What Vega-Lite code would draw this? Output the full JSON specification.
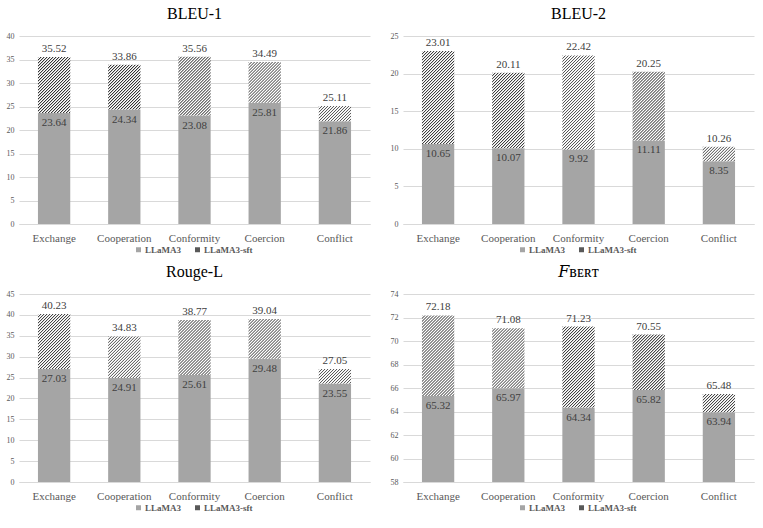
{
  "$schema": "https://vega.github.io/schema/vega-lite/v6.json",
  "description": "LLaMA3 vs LLaMA3-sft scores per negotiation type, four metrics.",
  "padding": {"left": 6, "top": 6, "right": 6, "bottom": 4},
  "params": [
    {
      "name": "hatchStops",
      "value": [
        {"offset": 0, "color": "#333333"}, {"offset": 0.009, "color": "#ffffff"}, {"offset": 0.015, "color": "#ffffff"},
        {"offset": 0.02, "color": "#333333"}, {"offset": 0.029, "color": "#ffffff"}, {"offset": 0.035, "color": "#ffffff"},
        {"offset": 0.04, "color": "#333333"}, {"offset": 0.049, "color": "#ffffff"}, {"offset": 0.055, "color": "#ffffff"},
        {"offset": 0.06, "color": "#333333"}, {"offset": 0.069, "color": "#ffffff"}, {"offset": 0.075, "color": "#ffffff"},
        {"offset": 0.08, "color": "#333333"}, {"offset": 0.089, "color": "#ffffff"}, {"offset": 0.095, "color": "#ffffff"},
        {"offset": 0.10, "color": "#333333"}, {"offset": 0.109, "color": "#ffffff"}, {"offset": 0.115, "color": "#ffffff"},
        {"offset": 0.12, "color": "#333333"}, {"offset": 0.129, "color": "#ffffff"}, {"offset": 0.135, "color": "#ffffff"},
        {"offset": 0.14, "color": "#333333"}, {"offset": 0.149, "color": "#ffffff"}, {"offset": 0.155, "color": "#ffffff"},
        {"offset": 0.16, "color": "#333333"}, {"offset": 0.169, "color": "#ffffff"}, {"offset": 0.175, "color": "#ffffff"},
        {"offset": 0.18, "color": "#333333"}, {"offset": 0.189, "color": "#ffffff"}, {"offset": 0.195, "color": "#ffffff"},
        {"offset": 0.20, "color": "#333333"}, {"offset": 0.209, "color": "#ffffff"}, {"offset": 0.215, "color": "#ffffff"},
        {"offset": 0.22, "color": "#333333"}, {"offset": 0.229, "color": "#ffffff"}, {"offset": 0.235, "color": "#ffffff"},
        {"offset": 0.24, "color": "#333333"}, {"offset": 0.249, "color": "#ffffff"}, {"offset": 0.255, "color": "#ffffff"},
        {"offset": 0.26, "color": "#333333"}, {"offset": 0.269, "color": "#ffffff"}, {"offset": 0.275, "color": "#ffffff"},
        {"offset": 0.28, "color": "#333333"}, {"offset": 0.289, "color": "#ffffff"}, {"offset": 0.295, "color": "#ffffff"},
        {"offset": 0.30, "color": "#333333"}, {"offset": 0.309, "color": "#ffffff"}, {"offset": 0.315, "color": "#ffffff"},
        {"offset": 0.32, "color": "#333333"}, {"offset": 0.329, "color": "#ffffff"}, {"offset": 0.335, "color": "#ffffff"},
        {"offset": 0.34, "color": "#333333"}, {"offset": 0.349, "color": "#ffffff"}, {"offset": 0.355, "color": "#ffffff"},
        {"offset": 0.36, "color": "#333333"}, {"offset": 0.369, "color": "#ffffff"}, {"offset": 0.375, "color": "#ffffff"},
        {"offset": 0.38, "color": "#333333"}, {"offset": 0.389, "color": "#ffffff"}, {"offset": 0.395, "color": "#ffffff"},
        {"offset": 0.40, "color": "#333333"}, {"offset": 0.409, "color": "#ffffff"}, {"offset": 0.415, "color": "#ffffff"},
        {"offset": 0.42, "color": "#333333"}, {"offset": 0.429, "color": "#ffffff"}, {"offset": 0.435, "color": "#ffffff"},
        {"offset": 0.44, "color": "#333333"}, {"offset": 0.449, "color": "#ffffff"}, {"offset": 0.455, "color": "#ffffff"},
        {"offset": 0.46, "color": "#333333"}, {"offset": 0.469, "color": "#ffffff"}, {"offset": 0.475, "color": "#ffffff"},
        {"offset": 0.48, "color": "#333333"}, {"offset": 0.489, "color": "#ffffff"}, {"offset": 0.495, "color": "#ffffff"},
        {"offset": 0.50, "color": "#333333"}, {"offset": 0.509, "color": "#ffffff"}, {"offset": 0.515, "color": "#ffffff"},
        {"offset": 0.52, "color": "#333333"}, {"offset": 0.529, "color": "#ffffff"}, {"offset": 0.535, "color": "#ffffff"},
        {"offset": 0.54, "color": "#333333"}, {"offset": 0.549, "color": "#ffffff"}, {"offset": 0.555, "color": "#ffffff"},
        {"offset": 0.56, "color": "#333333"}, {"offset": 0.569, "color": "#ffffff"}, {"offset": 0.575, "color": "#ffffff"},
        {"offset": 0.58, "color": "#333333"}, {"offset": 0.589, "color": "#ffffff"}, {"offset": 0.595, "color": "#ffffff"},
        {"offset": 0.60, "color": "#333333"}, {"offset": 0.609, "color": "#ffffff"}, {"offset": 0.615, "color": "#ffffff"},
        {"offset": 0.62, "color": "#333333"}, {"offset": 0.629, "color": "#ffffff"}, {"offset": 0.635, "color": "#ffffff"},
        {"offset": 0.64, "color": "#333333"}, {"offset": 0.649, "color": "#ffffff"}, {"offset": 0.655, "color": "#ffffff"},
        {"offset": 0.66, "color": "#333333"}, {"offset": 0.669, "color": "#ffffff"}, {"offset": 0.675, "color": "#ffffff"},
        {"offset": 0.68, "color": "#333333"}, {"offset": 0.689, "color": "#ffffff"}, {"offset": 0.695, "color": "#ffffff"},
        {"offset": 0.70, "color": "#333333"}, {"offset": 0.709, "color": "#ffffff"}, {"offset": 0.715, "color": "#ffffff"},
        {"offset": 0.72, "color": "#333333"}, {"offset": 0.729, "color": "#ffffff"}, {"offset": 0.735, "color": "#ffffff"},
        {"offset": 0.74, "color": "#333333"}, {"offset": 0.749, "color": "#ffffff"}, {"offset": 0.755, "color": "#ffffff"},
        {"offset": 0.76, "color": "#333333"}, {"offset": 0.769, "color": "#ffffff"}, {"offset": 0.775, "color": "#ffffff"},
        {"offset": 0.78, "color": "#333333"}, {"offset": 0.789, "color": "#ffffff"}, {"offset": 0.795, "color": "#ffffff"},
        {"offset": 0.80, "color": "#333333"}, {"offset": 0.809, "color": "#ffffff"}, {"offset": 0.815, "color": "#ffffff"},
        {"offset": 0.82, "color": "#333333"}, {"offset": 0.829, "color": "#ffffff"}, {"offset": 0.835, "color": "#ffffff"},
        {"offset": 0.84, "color": "#333333"}, {"offset": 0.849, "color": "#ffffff"}, {"offset": 0.855, "color": "#ffffff"},
        {"offset": 0.86, "color": "#333333"}, {"offset": 0.869, "color": "#ffffff"}, {"offset": 0.875, "color": "#ffffff"},
        {"offset": 0.88, "color": "#333333"}, {"offset": 0.889, "color": "#ffffff"}, {"offset": 0.895, "color": "#ffffff"},
        {"offset": 0.90, "color": "#333333"}, {"offset": 0.909, "color": "#ffffff"}, {"offset": 0.915, "color": "#ffffff"},
        {"offset": 0.92, "color": "#333333"}, {"offset": 0.929, "color": "#ffffff"}, {"offset": 0.935, "color": "#ffffff"},
        {"offset": 0.94, "color": "#333333"}, {"offset": 0.949, "color": "#ffffff"}, {"offset": 0.955, "color": "#ffffff"},
        {"offset": 0.96, "color": "#333333"}, {"offset": 0.969, "color": "#ffffff"}, {"offset": 0.975, "color": "#ffffff"},
        {"offset": 0.98, "color": "#333333"}, {"offset": 0.989, "color": "#ffffff"}, {"offset": 0.995, "color": "#ffffff"},
        {"offset": 1, "color": "#333333"}
      ]
    }
  ],
  "datasets": {
    "scores": [
      {"metric": "BLEU-1", "category": "Exchange", "base": 23.64, "sft": 35.52},
      {"metric": "BLEU-1", "category": "Cooperation", "base": 24.34, "sft": 33.86},
      {"metric": "BLEU-1", "category": "Conformity", "base": 23.08, "sft": 35.56},
      {"metric": "BLEU-1", "category": "Coercion", "base": 25.81, "sft": 34.49},
      {"metric": "BLEU-1", "category": "Conflict", "base": 21.86, "sft": 25.11},
      {"metric": "BLEU-2", "category": "Exchange", "base": 10.65, "sft": 23.01},
      {"metric": "BLEU-2", "category": "Cooperation", "base": 10.07, "sft": 20.11},
      {"metric": "BLEU-2", "category": "Conformity", "base": 9.92, "sft": 22.42},
      {"metric": "BLEU-2", "category": "Coercion", "base": 11.11, "sft": 20.25},
      {"metric": "BLEU-2", "category": "Conflict", "base": 8.35, "sft": 10.26},
      {"metric": "Rouge-L", "category": "Exchange", "base": 27.03, "sft": 40.23},
      {"metric": "Rouge-L", "category": "Cooperation", "base": 24.91, "sft": 34.83},
      {"metric": "Rouge-L", "category": "Conformity", "base": 25.61, "sft": 38.77},
      {"metric": "Rouge-L", "category": "Coercion", "base": 29.48, "sft": 39.04},
      {"metric": "Rouge-L", "category": "Conflict", "base": 23.55, "sft": 27.05},
      {"metric": "FBERT", "category": "Exchange", "base": 65.32, "sft": 72.18},
      {"metric": "FBERT", "category": "Cooperation", "base": 65.97, "sft": 71.08},
      {"metric": "FBERT", "category": "Conformity", "base": 64.34, "sft": 71.23},
      {"metric": "FBERT", "category": "Coercion", "base": 65.82, "sft": 70.55},
      {"metric": "FBERT", "category": "Conflict", "base": 63.94, "sft": 65.48}
    ]
  },
  "columns": 2,
  "spacing": {"row": 9, "column": 20},
  "concat": [
    {
      "title": "BLEU-1",
      "width": 351,
      "height": 188,
      "data": {"name": "scores"},
      "transform": [{"filter": "datum.metric === 'BLEU-1'"}],
      "encoding": {
        "x": {"field": "category", "type": "nominal", "sort": null}
      },
      "layer": [
        {
          "mark": "bar",
          "encoding": {
            "y": {"field": "base", "type": "quantitative", "scale": {"domain": [0, 40]}, "axis": {"values": [0, 5, 10, 15, 20, 25, 30, 35, 40]}},
            "color": {
              "datum": "LLaMA3",
              "scale": {"domain": ["LLaMA3", "LLaMA3-sft"], "range": ["#a5a5a5", "#595959"]},
              "legend": {"encode": {"symbols": {"update": {"fill": [{"test": "datum.value === 'LLaMA3-sft'", "signal": "{gradient: 'linear', x1: 0, y1: 0, x2: 15, y2: 15, stops: hatchStops}"}, {"value": "#a5a5a5"}]}}}}
            }
          }
        },
        {
          "mark": {"type": "bar", "fill": {"expr": "{gradient: 'linear', x1: 0, y1: 0, x2: 32.3 * 150 / (1043.29 + pow((datum.sft - datum.base) * 4.7, 2)), y2: (datum.sft - datum.base) * 4.7 * 150 / (1043.29 + pow((datum.sft - datum.base) * 4.7, 2)), stops: hatchStops}"}},
          "encoding": {
            "y": {"field": "base", "type": "quantitative", "scale": {"domain": [0, 40]}, "axis": {"values": [0, 5, 10, 15, 20, 25, 30, 35, 40]}},
            "y2": {"field": "sft"}
          }
        },
        {
          "mark": {"type": "text", "baseline": "bottom", "dy": -3},
          "encoding": {
            "y": {"field": "sft", "type": "quantitative", "scale": {"domain": [0, 40]}, "axis": {"values": [0, 5, 10, 15, 20, 25, 30, 35, 40]}},
            "text": {"field": "sft", "format": ".2f"}
          }
        },
        {
          "mark": {"type": "text", "baseline": "top", "dy": 4},
          "encoding": {
            "y": {"field": "base", "type": "quantitative", "scale": {"domain": [0, 40]}, "axis": {"values": [0, 5, 10, 15, 20, 25, 30, 35, 40]}},
            "text": {"field": "base", "format": ".2f"}
          }
        }
      ]
    },
    {
      "title": "BLEU-2",
      "width": 351,
      "height": 188,
      "data": {"name": "scores"},
      "transform": [{"filter": "datum.metric === 'BLEU-2'"}],
      "encoding": {
        "x": {"field": "category", "type": "nominal", "sort": null}
      },
      "layer": [
        {
          "mark": "bar",
          "encoding": {
            "y": {"field": "base", "type": "quantitative", "scale": {"domain": [0, 25]}, "axis": {"values": [0, 5, 10, 15, 20, 25]}},
            "color": {
              "datum": "LLaMA3",
              "scale": {"domain": ["LLaMA3", "LLaMA3-sft"], "range": ["#a5a5a5", "#595959"]},
              "legend": {"encode": {"symbols": {"update": {"fill": [{"test": "datum.value === 'LLaMA3-sft'", "signal": "{gradient: 'linear', x1: 0, y1: 0, x2: 15, y2: 15, stops: hatchStops}"}, {"value": "#a5a5a5"}]}}}}
            }
          }
        },
        {
          "mark": {"type": "bar", "fill": {"expr": "{gradient: 'linear', x1: 0, y1: 0, x2: 32.3 * 150 / (1043.29 + pow((datum.sft - datum.base) * 7.52, 2)), y2: (datum.sft - datum.base) * 7.52 * 150 / (1043.29 + pow((datum.sft - datum.base) * 7.52, 2)), stops: hatchStops}"}},
          "encoding": {
            "y": {"field": "base", "type": "quantitative", "scale": {"domain": [0, 25]}, "axis": {"values": [0, 5, 10, 15, 20, 25]}},
            "y2": {"field": "sft"}
          }
        },
        {
          "mark": {"type": "text", "baseline": "bottom", "dy": -3},
          "encoding": {
            "y": {"field": "sft", "type": "quantitative", "scale": {"domain": [0, 25]}, "axis": {"values": [0, 5, 10, 15, 20, 25]}},
            "text": {"field": "sft", "format": ".2f"}
          }
        },
        {
          "mark": {"type": "text", "baseline": "top", "dy": 4},
          "encoding": {
            "y": {"field": "base", "type": "quantitative", "scale": {"domain": [0, 25]}, "axis": {"values": [0, 5, 10, 15, 20, 25]}},
            "text": {"field": "base", "format": ".2f"}
          }
        }
      ]
    },
    {
      "title": "Rouge-L",
      "width": 351,
      "height": 188,
      "data": {"name": "scores"},
      "transform": [{"filter": "datum.metric === 'Rouge-L'"}],
      "encoding": {
        "x": {"field": "category", "type": "nominal", "sort": null}
      },
      "layer": [
        {
          "mark": "bar",
          "encoding": {
            "y": {"field": "base", "type": "quantitative", "scale": {"domain": [0, 45]}, "axis": {"values": [0, 5, 10, 15, 20, 25, 30, 35, 40, 45]}},
            "color": {
              "datum": "LLaMA3",
              "scale": {"domain": ["LLaMA3", "LLaMA3-sft"], "range": ["#a5a5a5", "#595959"]},
              "legend": {"encode": {"symbols": {"update": {"fill": [{"test": "datum.value === 'LLaMA3-sft'", "signal": "{gradient: 'linear', x1: 0, y1: 0, x2: 15, y2: 15, stops: hatchStops}"}, {"value": "#a5a5a5"}]}}}}
            }
          }
        },
        {
          "mark": {"type": "bar", "fill": {"expr": "{gradient: 'linear', x1: 0, y1: 0, x2: 32.3 * 150 / (1043.29 + pow((datum.sft - datum.base) * 4.178, 2)), y2: (datum.sft - datum.base) * 4.178 * 150 / (1043.29 + pow((datum.sft - datum.base) * 4.178, 2)), stops: hatchStops}"}},
          "encoding": {
            "y": {"field": "base", "type": "quantitative", "scale": {"domain": [0, 45]}, "axis": {"values": [0, 5, 10, 15, 20, 25, 30, 35, 40, 45]}},
            "y2": {"field": "sft"}
          }
        },
        {
          "mark": {"type": "text", "baseline": "bottom", "dy": -3},
          "encoding": {
            "y": {"field": "sft", "type": "quantitative", "scale": {"domain": [0, 45]}, "axis": {"values": [0, 5, 10, 15, 20, 25, 30, 35, 40, 45]}},
            "text": {"field": "sft", "format": ".2f"}
          }
        },
        {
          "mark": {"type": "text", "baseline": "top", "dy": 4},
          "encoding": {
            "y": {"field": "base", "type": "quantitative", "scale": {"domain": [0, 45]}, "axis": {"values": [0, 5, 10, 15, 20, 25, 30, 35, 40, 45]}},
            "text": {"field": "base", "format": ".2f"}
          }
        }
      ]
    },
    {
      "title": {"text": "𝐹ʙᴇʀᴛ", "font": "Liberation Serif, DejaVu Serif"},
      "width": 351,
      "height": 188,
      "data": {"name": "scores"},
      "transform": [{"filter": "datum.metric === 'FBERT'"}],
      "encoding": {
        "x": {"field": "category", "type": "nominal", "sort": null}
      },
      "layer": [
        {
          "mark": {"type": "bar", "clip": true},
          "encoding": {
            "y": {"field": "base", "type": "quantitative", "scale": {"domain": [58, 74], "zero": false}, "axis": {"values": [58, 60, 62, 64, 66, 68, 70, 72, 74]}},
            "color": {
              "datum": "LLaMA3",
              "scale": {"domain": ["LLaMA3", "LLaMA3-sft"], "range": ["#a5a5a5", "#595959"]},
              "legend": {"encode": {"symbols": {"update": {"fill": [{"test": "datum.value === 'LLaMA3-sft'", "signal": "{gradient: 'linear', x1: 0, y1: 0, x2: 15, y2: 15, stops: hatchStops}"}, {"value": "#a5a5a5"}]}}}}
            }
          }
        },
        {
          "mark": {"type": "bar", "fill": {"expr": "{gradient: 'linear', x1: 0, y1: 0, x2: 32.3 * 150 / (1043.29 + pow((datum.sft - datum.base) * 11.75, 2)), y2: (datum.sft - datum.base) * 11.75 * 150 / (1043.29 + pow((datum.sft - datum.base) * 11.75, 2)), stops: hatchStops}"}},
          "encoding": {
            "y": {"field": "base", "type": "quantitative", "scale": {"domain": [58, 74], "zero": false}, "axis": {"values": [58, 60, 62, 64, 66, 68, 70, 72, 74]}},
            "y2": {"field": "sft"}
          }
        },
        {
          "mark": {"type": "text", "baseline": "bottom", "dy": -3},
          "encoding": {
            "y": {"field": "sft", "type": "quantitative", "scale": {"domain": [58, 74], "zero": false}, "axis": {"values": [58, 60, 62, 64, 66, 68, 70, 72, 74]}},
            "text": {"field": "sft", "format": ".2f"}
          }
        },
        {
          "mark": {"type": "text", "baseline": "top", "dy": 4},
          "encoding": {
            "y": {"field": "base", "type": "quantitative", "scale": {"domain": [58, 74], "zero": false}, "axis": {"values": [58, 60, 62, 64, 66, 68, 70, 72, 74]}},
            "text": {"field": "base", "format": ".2f"}
          }
        }
      ]
    }
  ],
  "resolve": {
    "scale": {"color": "independent", "y": "independent", "x": "independent"},
    "legend": {"color": "independent"}
  },
  "config": {
    "font": "Liberation Serif",
    "view": {"stroke": null},
    "title": {"font": "Liberation Serif", "fontSize": 16, "fontWeight": "normal", "color": "#000000", "offset": 10},
    "scale": {"bandPaddingInner": 0.54, "bandPaddingOuter": 0.27},
    "axisX": {"title": null, "labelAngle": 0, "labelFont": "Liberation Serif", "labelFontSize": 11, "labelColor": "#595959", "labelPadding": 8, "ticks": false, "domainColor": "#d9d9d9", "grid": false},
    "axisY": {"title": null, "labelFont": "Liberation Serif", "labelFontSize": 8, "labelColor": "#595959", "labelPadding": 5, "ticks": false, "domain": false, "gridColor": "#d9d9d9", "labelOverlap": false},
    "text": {"font": "Liberation Serif", "fontSize": 11, "color": "#404040"},
    "legend": {
      "orient": "none", "legendX": 115, "legendY": 209, "direction": "horizontal", "title": null,
      "symbolType": "square", "symbolSize": 25, "symbolStrokeWidth": 0,
      "labelFont": "Liberation Serif", "labelFontSize": 9, "labelFontWeight": "bold", "labelColor": "#595959",
      "labelOffset": 2, "columnPadding": 12
    }
  }
}
